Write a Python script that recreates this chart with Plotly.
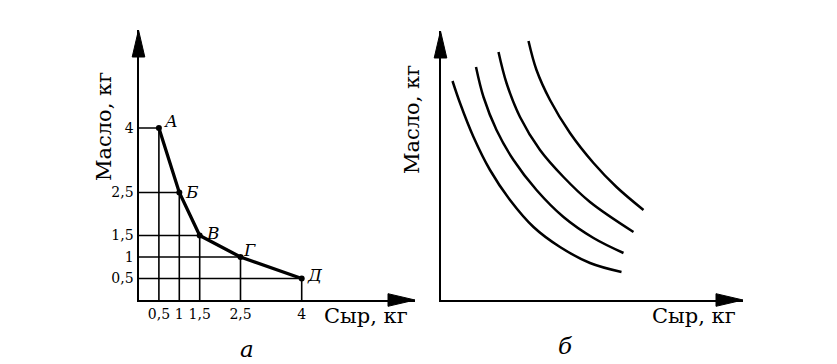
import plotly.graph_objects as go

W, H = 837, 364

# ---------------- Data: panel "а" ----------------
cheese = [0.5, 1, 1.5, 2.5, 4]
butter = [4, 2.5, 1.5, 1, 0.5]
point_labels = ["А", "Б", "В", "Г", "Д"]
cheese_ticktext = ["0,5", "1", "1,5", "2,5", "4"]
butter_ticktext = ["4", "2,5", "1,5", "1", "0,5"]

# ---------------- Data: panel "б" (arbitrary units) ----------------
curve1_x = [1.2, 1.95, 3.3, 4.95, 6.95, 9.3, 11.95, 14.95, 18.1]
curve1_y = [21.9, 19.7, 16.3, 13.0, 10.0, 7.3, 5.3, 3.7, 2.8]
curve2_x = [3.55, 4.3, 5.6, 7.3, 9.6, 12.3, 15.3, 18.3]
curve2_y = [23.3, 20.3, 17.0, 14.0, 11.0, 8.3, 6.2, 4.7]
curve3_x = [5.8, 6.6, 7.95, 9.95, 12.3, 14.95, 19.3]
curve3_y = [24.8, 21.7, 18.3, 15.0, 12.3, 9.8, 6.8]
curve4_x = [8.8, 9.6, 10.95, 12.95, 15.3, 17.6, 20.3]
curve4_y = [25.9, 23.0, 20.0, 16.7, 13.7, 11.3, 9.0]
curves_b = [(curve1_x, curve1_y), (curve2_x, curve2_y),
            (curve3_x, curve3_y), (curve4_x, curve4_y)]

# ---------------- Layout geometry (pixels) ----------------
FONT = "DejaVu Serif"
# panel a
A_X0, A_X1, A_Y0, A_Y1 = 138.5, 415, 300, 30
A_KX, A_KY = 40.8, 43.0
# panel b
B_X0, B_X1, B_Y0, B_Y1 = 440.5, 743, 300, 31
B_K = 10.0

def dom_x(p0, p1):
    return [p0 / W, p1 / W]

def dom_y(bottom, top):
    return [1 - bottom / H, 1 - top / H]

fig = go.Figure()

# grid lines panel a
gx, gy = [], []
for xv, yv in zip(cheese, butter):
    gx += [xv, xv, None, 0, xv, None]
    gy += [0, yv, None, yv, yv, None]
fig.add_trace(go.Scatter(x=gx, y=gy, mode="lines", xaxis="x", yaxis="y",
                         line=dict(color="black", width=1.6), hoverinfo="skip"))
# curve panel a
fig.add_trace(go.Scatter(x=cheese, y=butter, mode="lines+markers", xaxis="x", yaxis="y",
                         line=dict(color="black", width=3.3),
                         marker=dict(color="black", size=6)))

# curves panel b
for cx, cy in curves_b:
    fig.add_trace(go.Scatter(x=cx, y=cy, mode="lines", xaxis="x2", yaxis="y2",
                             line=dict(color="black", width=2.5, shape="spline", smoothing=1.0)))

axis_common = dict(showgrid=False, zeroline=False, showline=True, linecolor="black",
                   linewidth=2.2, ticks="", tickfont=dict(family=FONT, size=14, color="black"),
                   fixedrange=True)

fig.update_layout(
    width=W, height=H, margin=dict(l=0, r=0, t=0, b=0),
    paper_bgcolor="white", plot_bgcolor="white", showlegend=False,
    xaxis=dict(domain=dom_x(A_X0, A_X1), range=[0, (A_X1 - A_X0) / A_KX],
               tickmode="array", tickvals=cheese, ticktext=cheese_ticktext,
               anchor="y", **axis_common),
    yaxis=dict(domain=dom_y(A_Y0, A_Y1), range=[0, (A_Y0 - A_Y1) / A_KY],
               tickmode="array", tickvals=butter, ticktext=butter_ticktext,
               anchor="x", **axis_common),
    xaxis2=dict(domain=dom_x(B_X0, B_X1), range=[0, (B_X1 - B_X0) / B_K],
                showticklabels=False, anchor="y2", **axis_common),
    yaxis2=dict(domain=dom_y(B_Y0, B_Y1), range=[0, (B_Y0 - B_Y1) / B_K],
                showticklabels=False, anchor="x2", **axis_common),
)

# arrowheads (in axis-domain fractions)
ARW_L, ARW_HW = 27, 6.3
def arrows(xn, yn, x0, x1, y0, y1):
    dw, dh = x1 - x0, y0 - y1
    up = f"M 0 1 L {ARW_HW/dw} {1-ARW_L/dh} L {-ARW_HW/dw} {1-ARW_L/dh} Z"
    right = f"M 1 0 L {1-ARW_L/dw} {ARW_HW/dh} L {1-ARW_L/dw} {-ARW_HW/dh} Z"
    for p in (up, right):
        fig.add_shape(type="path", path=p, xref=f"{xn} domain", yref=f"{yn} domain",
                      fillcolor="black", line=dict(color="black", width=1))

arrows("x", "y", A_X0, A_X1, A_Y0, A_Y1)
arrows("x2", "y2", B_X0, B_X1, B_Y0, B_Y1)

# point labels panel a
label_shift = [(12, 7), (13, 1), (13, 3), (9, 7), (13, 4)]
for xv, yv, t, (dx, dy) in zip(cheese, butter, point_labels, label_shift):
    fig.add_annotation(x=xv, y=yv, xref="x", yref="y", text=t, showarrow=False,
                       xshift=dx, yshift=dy,
                       font=dict(family=FONT, size=17, color="black", style="italic"))

def txt(px, py, text, size=21, angle=0, italic=False):
    fig.add_annotation(x=px / W, y=1 - py / H, xref="paper", yref="paper", text=text,
                       showarrow=False, textangle=angle, xanchor="center", yanchor="middle",
                       font=dict(family=FONT, size=size, color="black",
                                 style="italic" if italic else "normal"))

txt(104, 127, "Масло, кг", angle=-90)
txt(366, 316, "Сыр, кг")
txt(247, 349, "а", size=23, italic=True)
txt(412, 120, "Масло, кг", angle=-90)
txt(694, 316, "Сыр, кг")
txt(565, 346, "б", size=23, italic=True)

fig.write_html("out.html", config={"displayModeBar": False},
               post_script="document.body.style.margin='0';document.body.style.overflow='hidden';")
